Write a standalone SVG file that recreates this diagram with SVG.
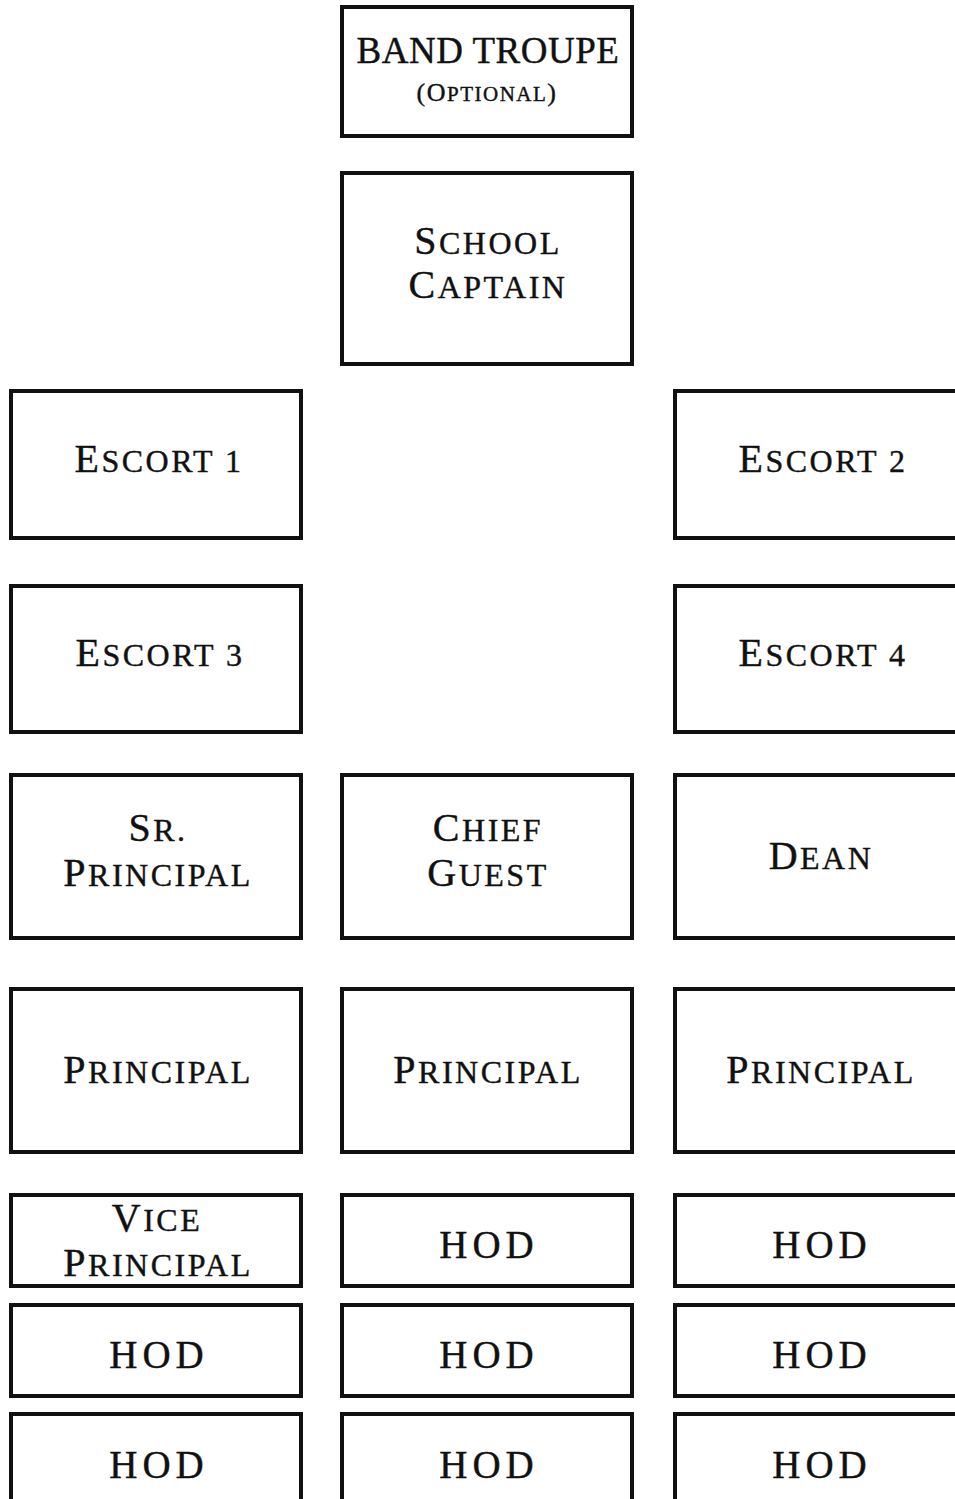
<svg xmlns="http://www.w3.org/2000/svg" width="955" height="1499" viewBox="0 0 955 1499">
<style>
rect.box{fill:#fff;stroke:#111;stroke-width:4}
text{font-family:"Liberation Serif","Times New Roman",serif;fill:#111;stroke:#111;stroke-width:0.4px;text-anchor:middle;font-size:40px;letter-spacing:2.5px}
tspan.s{font-size:32px}
text.hod{font-size:39px;letter-spacing:5px}
</style>
<rect width="955" height="1499" fill="#fff"/>
<g id="connectors"/>
<g id="band-troupe"><rect class="box" x="342" y="7" width="290" height="129"/>
<text x="488" y="63" style="font-size:37px;letter-spacing:0.5px">BAND TROUPE</text>
<text x="487" y="101" style="font-size:26px;letter-spacing:1.5px">(O<tspan style="font-size:21px">PTIONAL</tspan>)</text></g>
<g id="school-captain"><rect class="box" x="342" y="173" width="290" height="191"/>
<text x="488" y="254">S<tspan class="s">CHOOL</tspan></text>
<text x="488" y="298">C<tspan class="s">APTAIN</tspan></text></g>
<g id="escort-1"><rect class="box" x="11" y="391" width="290" height="147"/>
<text x="159" y="472">E<tspan class="s">SCORT 1</tspan></text></g>
<g id="escort-2"><rect class="box" x="675" y="391" width="290" height="147"/>
<text x="823" y="472">E<tspan class="s">SCORT 2</tspan></text></g>
<g id="escort-3"><rect class="box" x="11" y="586" width="290" height="146"/>
<text x="160" y="666">E<tspan class="s">SCORT 3</tspan></text></g>
<g id="escort-4"><rect class="box" x="675" y="586" width="290" height="146"/>
<text x="823" y="666">E<tspan class="s">SCORT 4</tspan></text></g>
<g id="sr-principal"><rect class="box" x="11" y="775" width="290" height="163"/>
<text x="158" y="841">S<tspan class="s">R.</tspan></text>
<text x="158" y="886">P<tspan class="s">RINCIPAL</tspan></text></g>
<g id="chief-guest"><rect class="box" x="342" y="775" width="290" height="163"/>
<text x="488" y="841">C<tspan class="s">HIEF</tspan></text>
<text x="488" y="886">G<tspan class="s">UEST</tspan></text></g>
<g id="dean"><rect class="box" x="675" y="775" width="290" height="163"/>
<text x="821" y="869">D<tspan class="s">EAN</tspan></text></g>
<g id="principal-1"><rect class="box" x="11" y="989" width="290" height="163"/>
<text x="158" y="1083">P<tspan class="s">RINCIPAL</tspan></text></g>
<g id="principal-2"><rect class="box" x="342" y="989" width="290" height="163"/>
<text x="488" y="1083">P<tspan class="s">RINCIPAL</tspan></text></g>
<g id="principal-3"><rect class="box" x="675" y="989" width="290" height="163"/>
<text x="821" y="1083">P<tspan class="s">RINCIPAL</tspan></text></g>
<g id="vice-principal"><rect class="box" x="11" y="1195" width="290" height="91"/>
<text x="157" y="1231">V<tspan class="s">ICE</tspan></text>
<text x="158" y="1276">P<tspan class="s">RINCIPAL</tspan></text></g>
<g id="hod-2a"><rect class="box" x="342" y="1195" width="290" height="91"/>
<text class="hod" x="489" y="1258">HOD</text></g>
<g id="hod-3a"><rect class="box" x="675" y="1195" width="290" height="91"/>
<text class="hod" x="822" y="1258">HOD</text></g>
<g id="hod-1b"><rect class="box" x="11" y="1305" width="290" height="91"/>
<text class="hod" x="159" y="1368">HOD</text></g>
<g id="hod-2b"><rect class="box" x="342" y="1305" width="290" height="91"/>
<text class="hod" x="489" y="1368">HOD</text></g>
<g id="hod-3b"><rect class="box" x="675" y="1305" width="290" height="91"/>
<text class="hod" x="822" y="1368">HOD</text></g>
<g id="hod-1c"><rect class="box" x="11" y="1414" width="290" height="100"/>
<text class="hod" x="159" y="1478">HOD</text></g>
<g id="hod-2c"><rect class="box" x="342" y="1414" width="290" height="100"/>
<text class="hod" x="489" y="1478">HOD</text></g>
<g id="hod-3c"><rect class="box" x="675" y="1414" width="290" height="100"/>
<text class="hod" x="822" y="1478">HOD</text></g>
</svg>
